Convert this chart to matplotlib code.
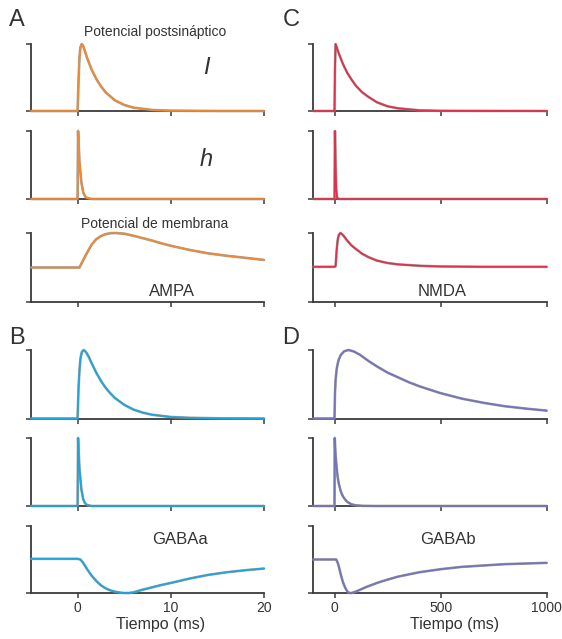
import matplotlib
matplotlib.use("Agg")
import matplotlib.pyplot as plt

plt.rcParams['font.family'] = ['Liberation Sans', 'DejaVu Sans']

# ---------------- data ----------------
# AMPA (panel A), time in ms
ampa_I_t = [-5, 0, 0.1, 0.2, 0.3, 0.45, 0.6, 0.8, 1.0, 1.5, 2, 2.5, 3, 4, 5, 6, 8, 10, 15, 20]
ampa_I_v = [0, 0, 0.45, 0.8, 0.95, 1.0, 0.97, 0.89, 0.8, 0.62, 0.48, 0.37, 0.28, 0.16, 0.09, 0.05, 0.015, 0.005, 0, 0]
ampa_h_t = [-5, 0, 0.05, 0.2, 0.4, 0.6, 0.8, 1.0, 1.5, 20]
ampa_h_v = [0, 0, 1.0, 0.55, 0.25, 0.1, 0.04, 0.015, 0, 0]
ampa_V_t = [-5, 0, 0.2, 0.5, 1.0, 1.5, 2, 2.5, 3, 3.5, 4, 5, 6, 7, 8, 9, 10, 12, 14, 16, 18, 20]
ampa_V_v = [0.5, 0.5, 0.5, 0.58, 0.71, 0.83, 0.91, 0.955, 0.983, 0.996, 1.0, 0.99, 0.96, 0.925, 0.89, 0.85, 0.815, 0.755, 0.705, 0.67, 0.64, 0.61]

# NMDA (panel C)
nmda_I_t = [-100, 0, 2, 5, 20, 40, 60, 80, 100, 130, 160, 200, 250, 300, 400, 500, 1000]
nmda_I_v = [0, 0, 0.6, 1.0, 0.86, 0.70, 0.57, 0.47, 0.38, 0.28, 0.21, 0.13, 0.07, 0.04, 0.01, 0.003, 0]
nmda_h_t = [-100, 0, 2, 5, 8, 12, 20, 1000]
nmda_h_v = [0, 0, 1.0, 0.5, 0.15, 0.02, 0, 0]
nmda_V_t = [-100, 0, 5, 10, 15, 20, 28, 40, 60, 80, 100, 130, 160, 200, 250, 300, 400, 500, 700, 1000]
nmda_V_v = [0.51, 0.51, 0.52, 0.75, 0.9, 0.97, 1.0, 0.97, 0.89, 0.82, 0.77, 0.70, 0.65, 0.60, 0.565, 0.545, 0.525, 0.515, 0.51, 0.51]

# GABAa (panel B)
gabaa_I_t = [-5, 0, 0.1, 0.2, 0.3, 0.45, 0.65, 0.9, 1.2, 1.5, 2, 2.5, 3, 3.5, 4, 5, 6, 7, 8, 10, 12, 15, 20]
gabaa_I_v = [0, 0, 0.45, 0.7, 0.87, 0.97, 1.0, 0.97, 0.9, 0.81, 0.67, 0.55, 0.45, 0.37, 0.3, 0.2, 0.13, 0.085, 0.055, 0.022, 0.01, 0.003, 0]
gabaa_h_t = [-5, 0, 0.05, 0.2, 0.4, 0.6, 0.8, 1.0, 1.5, 20]
gabaa_h_v = [0, 0, 1.0, 0.55, 0.25, 0.1, 0.04, 0.015, 0, 0]
gabaa_V_t = [-5, 0, 0.3, 0.6, 1.0, 1.5, 2, 2.5, 3, 3.5, 4, 4.5, 5, 5.5, 6, 7, 8, 9, 10, 12, 14, 16, 18, 20]
gabaa_V_v = [0.51, 0.51, 0.50, 0.45, 0.36, 0.26, 0.18, 0.115, 0.07, 0.04, 0.02, 0.007, 0.0, 0.0, 0.01, 0.05, 0.085, 0.12, 0.15, 0.215, 0.27, 0.31, 0.34, 0.365]

# GABAb (panel D)
gabab_I_t = [-100, 0, 2, 5, 10, 15, 20, 30, 45, 65, 90, 120, 160, 200, 250, 300, 350, 400, 450, 500, 600, 700, 800, 900, 1000]
gabab_I_v = [0, 0, 0.35, 0.56, 0.72, 0.8, 0.86, 0.93, 0.98, 1.0, 0.98, 0.93, 0.84, 0.76, 0.67, 0.60, 0.53, 0.47, 0.42, 0.37, 0.29, 0.23, 0.18, 0.145, 0.115]
gabab_h_t = [-100, 0, 1, 5, 10, 15, 20, 30, 40, 50, 60, 80, 100, 130, 200, 1000]
gabab_h_v = [0, 0, 1.0, 0.75, 0.56, 0.42, 0.33, 0.21, 0.14, 0.095, 0.06, 0.025, 0.01, 0.003, 0, 0]
gabab_V_t = [-100, 0, 8, 15, 20, 30, 40, 50, 60, 70, 80, 100, 150, 200, 250, 300, 400, 500, 600, 700, 800, 900, 1000]
gabab_V_v = [0.5, 0.5, 0.5, 0.45, 0.4, 0.27, 0.16, 0.08, 0.025, 0.0, 0.0, 0.02, 0.09, 0.15, 0.2, 0.245, 0.31, 0.355, 0.39, 0.41, 0.43, 0.44, 0.45]

left_ticks = [0, 10, 20]
right_ticks = [0, 500, 1000]
receptor_names = ["AMPA", "NMDA", "GABAa", "GABAb"]

# ---------------- layout ----------------
W, H = 562, 639
fig = plt.figure(figsize=(W / 100, H / 100), dpi=100)

def frac_box(x0, x1, ytop, ybot):
    return [x0 / W, 1 - ybot / H, (x1 - x0) / W, (ybot - ytop) / H]

rows_top = [(44, 111), (131, 199), (233, 302)]
rows_bot = [(350, 418.5), (438, 506), (526, 593)]
col_left = (31, 264)
col_right = (313.3, 546.7)

spine_col = '#3a3a3a'

def make_ax(col, row, xlim, ticks, show_labels):
    ax = fig.add_axes(frac_box(col[0], col[1], row[0], row[1]))
    ax.set_xlim(*xlim)
    ax.set_ylim(0, 1)
    for s in ['top', 'right']:
        ax.spines[s].set_visible(False)
    for s in ['left', 'bottom']:
        ax.spines[s].set_color(spine_col)
        ax.spines[s].set_linewidth(1.3)
    ax.set_xticks(ticks)
    ax.set_yticks([0, 1])
    ax.set_yticklabels([])
    ax.tick_params(axis='both', direction='out', length=3.5, width=1.1, color=spine_col,
                   labelsize=10, labelcolor='#333333', pad=2)
    if not show_labels:
        ax.set_xticklabels([])
    return ax

def draw(ax, t, v, color):
    ax.plot(t, v, color='#8a8a8a', lw=1.9, alpha=0.8, clip_on=False, solid_capstyle='round', zorder=3)
    ax.plot(t, v, color=color, lw=1.25, clip_on=False, solid_capstyle='round', zorder=4)

c_ampa = '#F08A30'
c_nmda = '#E0304A'
c_gabaa = '#1CA6DC'
c_gabab = '#7474B8'

panels = [
    (col_left, rows_top, (-5, 20), left_ticks, c_ampa,
     [(ampa_I_t, ampa_I_v), (ampa_h_t, ampa_h_v), (ampa_V_t, ampa_V_v)], False),
    (col_right, rows_top, (-100, 1000), right_ticks, c_nmda,
     [(nmda_I_t, nmda_I_v), (nmda_h_t, nmda_h_v), (nmda_V_t, nmda_V_v)], False),
    (col_left, rows_bot, (-5, 20), left_ticks, c_gabaa,
     [(gabaa_I_t, gabaa_I_v), (gabaa_h_t, gabaa_h_v), (gabaa_V_t, gabaa_V_v)], True),
    (col_right, rows_bot, (-100, 1000), right_ticks, c_gabab,
     [(gabab_I_t, gabab_I_v), (gabab_h_t, gabab_h_v), (gabab_V_t, gabab_V_v)], True),
]

for col, rows, xlim, ticks, color, series, bottom in panels:
    for i, (row, (t, v)) in enumerate(zip(rows, series)):
        ax = make_ax(col, row, xlim, ticks, bottom and i == 2)
        draw(ax, t, v, color)

def ftext(x, y, s, **kw):
    fig.text(x / W, 1 - y / H, s, ha='center', va='center', color='#333333', **kw)

# panel letters
for (x, y, s) in [(17, 20, 'A'), (291, 20, 'C'), (17, 338, 'B'), (291, 338, 'D')]:
    ftext(x, y, s, fontsize=17)

ftext(155, 32, 'Potencial postsináptico', fontsize=10)
ftext(155, 224, 'Potencial de membrana', fontsize=10)
ftext(206, 67, 'I', fontsize=17, style='italic')
ftext(206, 159, 'h', fontsize=17, style='italic')
ftext(172, 291, receptor_names[0], fontsize=12)
ftext(442, 291, receptor_names[1], fontsize=12)
ftext(180, 539, receptor_names[2], fontsize=12)
ftext(448, 539, receptor_names[3], fontsize=12)
ftext(161, 625, 'Tiempo (ms)', fontsize=11.5)
ftext(455, 625, 'Tiempo (ms)', fontsize=11.5)

fig.savefig('out.png', dpi=100)
